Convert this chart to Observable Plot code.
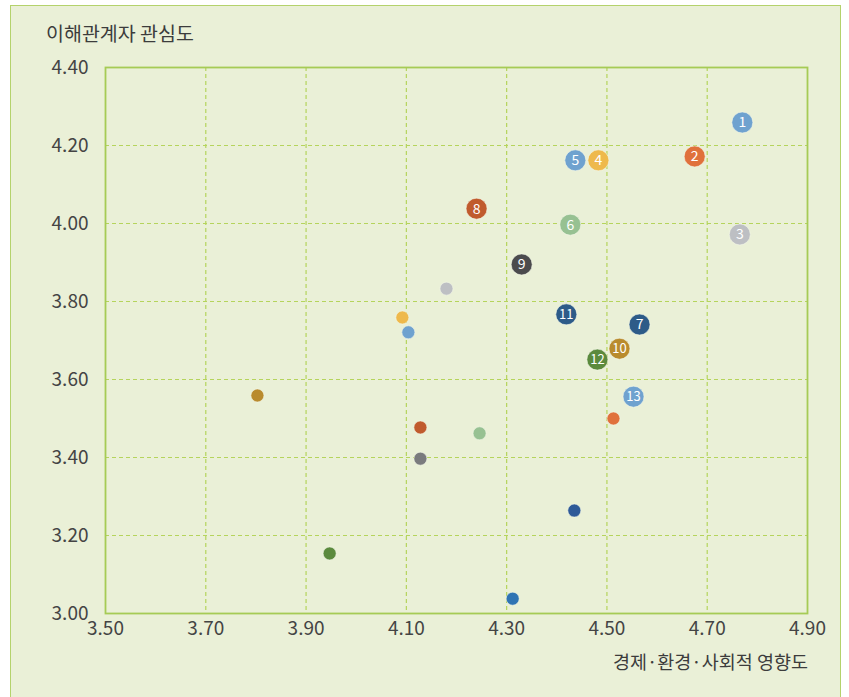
<!DOCTYPE html>
<html>
<head>
<meta charset="utf-8">
<script src="https://cdn.jsdelivr.net/npm/d3@7"></script>
<script src="https://cdn.jsdelivr.net/npm/@observablehq/plot@0.6"></script>
<style>
html, body { margin: 0; padding: 0; overflow: hidden; background: #ffffff; }
body { width: 849px; height: 697px; position: relative; font-family: "Noto Sans CJK KR", "Noto Sans", sans-serif; }
#panel { position: absolute; left: 10px; top: 5px; width: 829px; height: 720px; background: #eaf0d7; border: 1px solid #b4d26c; }
#chart { position: absolute; left: 0; top: 0; width: 849px; }
#title { box-sizing: border-box; height: 57px; padding: 20px 0 0 46px; font-size: 19.5px; line-height: 26px; color: #3c3c3c; }
#xlabel { box-sizing: border-box; width: 849px; padding: 3px 41px 0 0; text-align: right; font-size: 18.5px; line-height: 26px; color: #3c3c3c; }
svg { display: block; }
</style>
</head>
<body>
<div id="panel"></div>
<div id="chart">
  <div id="title">이해관계자 관심도</div>
  <div id="plot"></div>
  <div id="xlabel">경제·환경·사회적 영향도</div>
</div>
<script>
// Axis ticks
const xTicks = [3.5, 3.7, 3.9, 4.1, 4.3, 4.5, 4.7, 4.9];
const yTicks = [3.0, 3.2, 3.4, 3.6, 3.8, 4.0, 4.2, 4.4];

// Numbered issues
const ids      = ["1", "2", "3", "4", "5", "6", "7", "8", "9", "10", "11", "12", "13"];
const impactX  = [4.770, 4.675, 4.765, 4.483, 4.437, 4.427, 4.565, 4.240, 4.330, 4.525, 4.419, 4.481, 4.553];
const concernY = [4.259, 4.172, 3.972, 4.162, 4.162, 3.997, 3.741, 4.038, 3.895, 3.679, 3.767, 3.651, 3.556];
const idColors = ["#6fa2cf", "#e0713c", "#bdbfc3", "#eeb94c", "#6fa2cf", "#97c192", "#2d5b88", "#c05b2d", "#4b4b4d", "#b98b2e", "#2d5b88", "#5b8a3d", "#6fa2cf"];

// Unnumbered issues
const otherX      = [4.180, 4.092, 4.104, 3.803, 4.128, 4.246, 4.128, 4.513, 4.435, 3.947, 4.312];
const otherY      = [3.833, 3.759, 3.721, 3.559, 3.477, 3.462, 3.397, 3.500, 3.264, 3.154, 3.038];
const otherColors = ["#bdbfc3", "#eeb94c", "#6fa2cf", "#b98b2e", "#c05b2d", "#97c192", "#7a7b7d", "#e0713c", "#2e5a98", "#5b8a3d", "#2f74b3"];

const labeled = ids.map((id, i) => ({id, x: impactX[i], y: concernY[i], color: idColors[i]}));
const others = otherX.map((x, i) => ({x, y: otherY[i], color: otherColors[i]}));

const fmt = d => d.toFixed(2);

const chart = Plot.plot({
  width: 849,
  height: 588,
  marginLeft: 105,
  marginRight: 42,
  marginTop: 10,
  marginBottom: 32,
  style: {background: "transparent", fontSize: "19px", fontFamily: "'Noto Sans CJK KR', 'Noto Sans', sans-serif", color: "#444444", overflow: "visible"},
  color: {type: "identity"},
  x: {domain: [3.5, 4.9], ticks: xTicks, tickFormat: fmt, tickSize: 0, tickPadding: 8, label: null},
  y: {domain: [3.0, 4.4], ticks: yTicks, tickFormat: fmt, tickSize: 0, tickPadding: 17, label: null},
  marks: [
    Plot.gridX(xTicks.slice(1, -1), {stroke: "#b5d45c", strokeOpacity: 1, strokeWidth: 1.2, strokeDasharray: "4,3"}),
    Plot.gridY(yTicks.slice(1, -1), {stroke: "#b5d45c", strokeOpacity: 1, strokeWidth: 1.2, strokeDasharray: "4,3"}),
    Plot.frame({stroke: "#a6cb55", strokeWidth: 1.8}),
    Plot.dot(others, {x: "x", y: "y", r: 6.5, fill: "color", stroke: "#f4f7ea", strokeWidth: 0.8, strokeOpacity: 0.7}),
    Plot.dot(labeled, {x: "x", y: "y", r: 10.5, fill: "color", stroke: "#f4f7ea", strokeWidth: 0.8, strokeOpacity: 0.7}),
    Plot.text(labeled, {x: "x", y: "y", text: "id", fill: "white", fontSize: d => d.id.length > 1 ? 13 : 14, dy: 0.5})
  ]
});
document.getElementById("plot").appendChild(chart);
</script>
</body>
</html>
